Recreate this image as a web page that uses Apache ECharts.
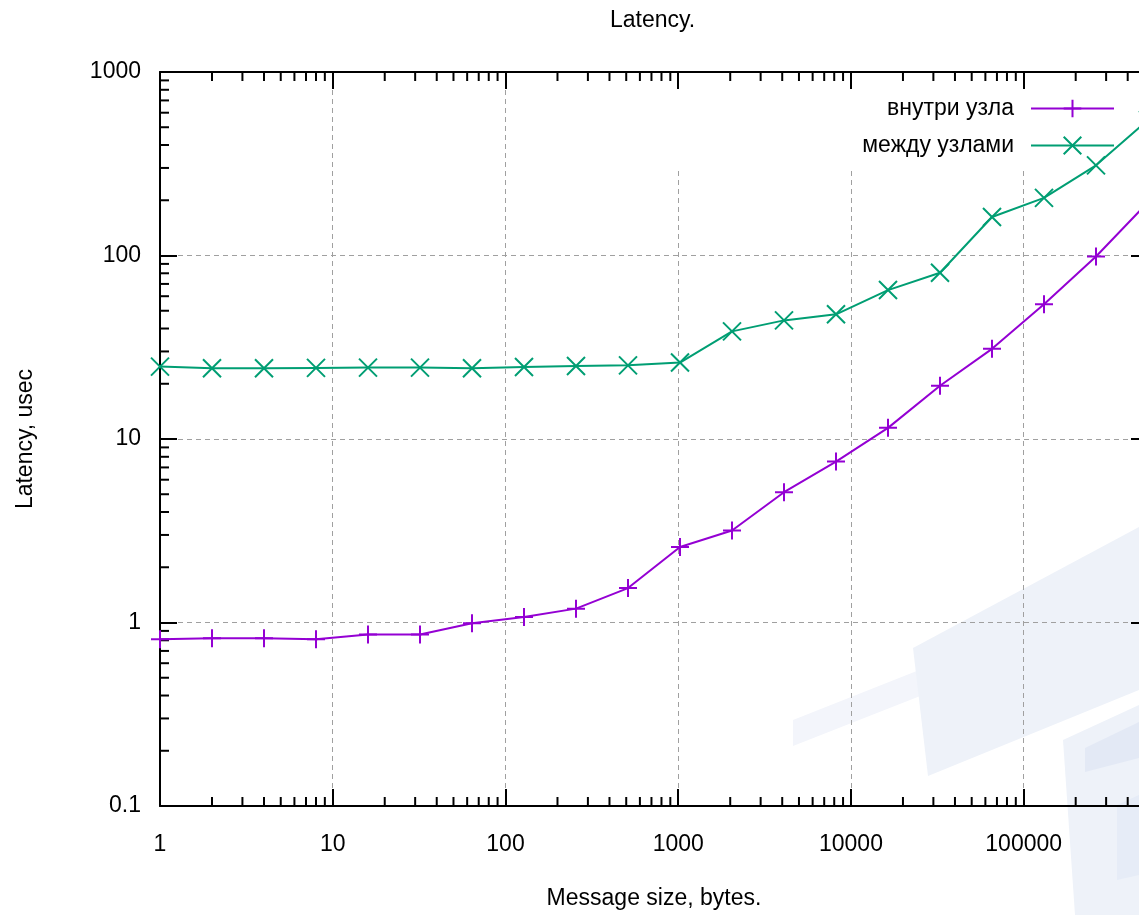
<!DOCTYPE html>
<html>
<head>
<meta charset="utf-8">
<script src="https://cdn.jsdelivr.net/npm/echarts@6/dist/echarts.min.js"></script>
<style>
html,body{margin:0;padding:0;background:#ffffff;overflow:hidden;width:1139px;height:915px}
#chart{width:1170px;height:915px}
</style>
</head>
<body>
<div id="chart"></div>
<script>
// ---- data ----
const messageSizes = [1, 2, 4, 8, 16, 32, 64, 128, 256, 512, 1024, 2048, 4096, 8192, 16384, 32768, 65536, 131072, 262144, 524288];
const intraNodeLatency = [0.81, 0.82, 0.82, 0.81, 0.86, 0.86, 0.99, 1.07, 1.19, 1.54, 2.58, 3.17, 5.13, 7.53, 11.5, 19.5, 31.0, 54.2, 98.8, 195];
const interNodeLatency = [24.8, 24.3, 24.3, 24.4, 24.5, 24.5, 24.3, 24.7, 25.0, 25.2, 26.1, 38.6, 44.3, 47.8, 64.8, 80.5, 162, 206, 310, 548];
const seriesNames = ['внутри узла', 'между узлами'];
const xTickLabels = ['1', '10', '100', '1000', '10000', '100000'];
const yTickLabels = ['0.1', '1', '10', '100', '1000'];
const xMinorDecades = [1, 10, 100, 1000, 10000, 100000];
const yMinorDecades = [0.1, 1, 10, 100];
const minorSteps = [2, 3, 4, 5, 6, 7, 8, 9];

const FONT = '"Liberation Sans", Arial, sans-serif';
const TXT = '#000000';
const purple = '#9400d3';
const green = '#009e73';

function decadeIndex(v) {
  const e = Math.log10(v);
  const r = Math.round(e);
  return Math.abs(e - r) < 1e-6 ? r : null;
}
function xLabel(v) { const r = decadeIndex(v); return r === null ? '' : (xTickLabels[r] ?? ''); }
function yLabel(v) { const r = decadeIndex(v); return r === null ? '' : (yTickLabels[r + 1] ?? ''); }

const xMinor = [];
xMinorDecades.forEach(d => minorSteps.forEach(s => { if (d * s <= messageSizes[messageSizes.length - 1]) xMinor.push([d * s, 1]); }));
const yMinor = [];
yMinorDecades.forEach(d => minorSteps.forEach(s => yMinor.push([1, d * s])));

const plusPath = 'path://M5,0L5,10M0,5L10,5';
const crossPath = 'path://M0,0L10,10M10,0L0,10';

const chart = echarts.init(document.getElementById('chart'), null, {renderer: 'canvas'});

const axisBase = {
  type: 'log', logBase: 10,
  axisLine: {show: true, lineStyle: {color: '#000', width: 2}},
  axisTick: {show: true, inside: true, length: 17, lineStyle: {color: '#000', width: 2}},
};

chart.setOption({
  animation: false,
  backgroundColor: '#ffffff',
  title: {
    text: 'Latency.', left: 610, top: 9, padding: 0,
    textStyle: {fontFamily: FONT, fontSize: 23, fontWeight: 'normal', color: TXT}
  },
  legend: {
    data: seriesNames, orient: 'vertical', align: 'right',
    right: 55, top: 97, padding: 0,
    itemWidth: 83, itemHeight: 22, itemGap: 14,
    textStyle: {fontFamily: FONT, fontSize: 23, color: TXT, padding: [0, 12, 0, 0]}
  },
  grid: {left: 160, top: 72, width: 988, height: 739, containLabel: false},
  xAxis: [
    Object.assign({}, axisBase, {
      position: 'bottom', min: 1, max: 524288,
      name: 'Message size, bytes.', nameLocation: 'middle', nameGap: 81,
      nameTextStyle: {fontFamily: FONT, fontSize: 23, color: TXT},
      axisLabel: {show: true, margin: 27, fontFamily: FONT, fontSize: 23, color: TXT, formatter: xLabel, showMaxLabel: false},
      splitLine: {show: true, lineStyle: {color: '#a0a0a0', width: 1, type: [5, 4]}}
    }),
    Object.assign({}, axisBase, {
      position: 'top', min: 1, max: 524288, z: 5,
      axisLabel: {show: false}, splitLine: {show: false}
    })
  ],
  yAxis: [
    Object.assign({}, axisBase, {
      position: 'left', min: 0.1, max: 1000,
      name: 'Latency, usec', nameLocation: 'middle', nameGap: 123,
      nameTextStyle: {fontFamily: FONT, fontSize: 23, color: TXT},
      axisLabel: {show: true, margin: 19, fontFamily: FONT, fontSize: 23, color: TXT, formatter: yLabel},
      splitLine: {show: true, lineStyle: {color: '#a0a0a0', width: 1, type: [5, 4]}}
    }),
    Object.assign({}, axisBase, {
      position: 'right', min: 0.1, max: 1000, z: 5,
      axisLabel: {show: false}, splitLine: {show: false}
    })
  ],
  graphic: [
    {type: 'polygon', z: -10, shape: {points: [[793, 720], [1139, 583], [1139, 610], [793, 746]]}, style: {fill: '#f3f5fb'}},
    {type: 'polygon', z: -9, shape: {points: [[913, 648], [1139, 527], [1139, 690], [928, 776]]}, style: {fill: '#eef2f9'}},
    {type: 'polygon', z: -8, shape: {points: [[1063, 740], [1139, 705], [1139, 915], [1075, 915]]}, style: {fill: '#eef2f9'}},
    {type: 'polygon', z: -7, shape: {points: [[1085, 748], [1139, 722], [1139, 758], [1085, 772]]}, style: {fill: '#e3e9f5'}},
    {type: 'polygon', z: -7, shape: {points: [[1117, 805], [1139, 795], [1139, 875], [1117, 880]]}, style: {fill: '#e6ecf7'}},
    {type: 'rect', z: 1, shape: {x: 590, y: 74, width: 556, height: 94}, style: {fill: '#ffffff'}}
  ],
  series: [
    {
      name: seriesNames[0], type: 'line', xAxisIndex: 0, yAxisIndex: 0, z: 4,
      data: messageSizes.map((s, i) => [s, intraNodeLatency[i]]),
      symbol: plusPath, symbolSize: 18,
      lineStyle: {color: purple, width: 2},
      itemStyle: {color: purple, borderColor: purple, borderWidth: 2},
      emphasis: {disabled: true}
    },
    {
      name: seriesNames[1], type: 'line', xAxisIndex: 0, yAxisIndex: 0, z: 4,
      data: messageSizes.map((s, i) => [s, interNodeLatency[i]]),
      symbol: crossPath, symbolSize: 18,
      lineStyle: {color: green, width: 2},
      itemStyle: {color: green, borderColor: green, borderWidth: 2},
      emphasis: {disabled: true}
    },
    {
      type: 'custom', name: 'xminor', xAxisIndex: 0, yAxisIndex: 0, z: 3, silent: true,
      data: xMinor,
      renderItem: function (params, api) {
        const cs = params.coordSys;
        const x = api.coord([api.value(0), 1])[0];
        const yb = cs.y + cs.height;
        return {type: 'group', children: [
          {type: 'line', shape: {x1: x, y1: yb, x2: x, y2: yb - 9}, style: {stroke: '#000', lineWidth: 2}},
          {type: 'line', shape: {x1: x, y1: cs.y, x2: x, y2: cs.y + 9}, style: {stroke: '#000', lineWidth: 2}}
        ]};
      }
    },
    {
      type: 'custom', name: 'yminor', xAxisIndex: 0, yAxisIndex: 0, z: 3, silent: true,
      data: yMinor,
      renderItem: function (params, api) {
        const cs = params.coordSys;
        const y = api.coord([1, api.value(1)])[1];
        const xr = cs.x + cs.width;
        return {type: 'group', children: [
          {type: 'line', shape: {x1: cs.x, y1: y, x2: cs.x + 9, y2: y}, style: {stroke: '#000', lineWidth: 2}},
          {type: 'line', shape: {x1: xr, y1: y, x2: xr - 9, y2: y}, style: {stroke: '#000', lineWidth: 2}}
        ]};
      }
    }
  ]
});
</script>
</body>
</html>
